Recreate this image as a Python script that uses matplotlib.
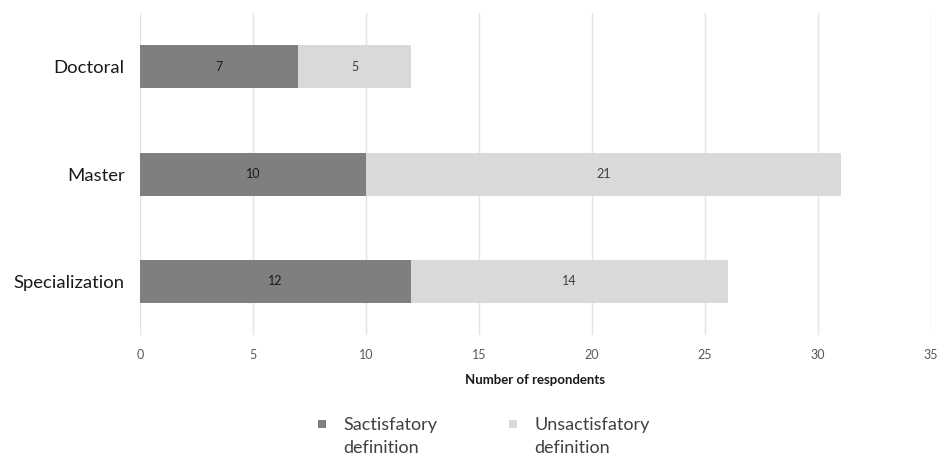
import matplotlib
matplotlib.use("Agg")
import matplotlib.pyplot as plt
from matplotlib.patches import Rectangle
import numpy as np

plt.rcParams['font.family'] = ['Lato', 'DejaVu Sans']

levels = ['Specialization', 'Master', 'Doctoral']
satisfactory = [12, 10, 7]
unsatisfactory = [14, 21, 5]
series_names = ['Sactisfatory\ndefinition', 'Unsactisfatory\ndefinition']

dark = '#7f7f7f'
light = '#d9d9d9'

W, H = 944, 461
fig = plt.figure(figsize=(W / 100, H / 100), dpi=100)
ax = fig.add_axes([0.1483, 0.273, 0.8379, 0.699])

y = np.arange(len(levels))
ax.barh(y, satisfactory, height=0.4, color=dark, zorder=2)
ax.barh(y, unsatisfactory, left=satisfactory, height=0.4, color=light, zorder=2)

# value labels in the middle of each segment
for i in range(len(levels)):
    ax.text(satisfactory[i] / 2, y[i], str(satisfactory[i]), ha='center', va='center',
            fontsize=9, color='#1a1a1a')
    ax.text(satisfactory[i] + unsatisfactory[i] / 2, y[i], str(unsatisfactory[i]),
            ha='center', va='center', fontsize=9, color='#404040')

ax.set_xlim(0, 35)
ax.set_ylim(-0.5, 2.5)
ax.set_xticks(np.arange(0, 36, 5))
ax.set_yticks(y)
ax.set_yticklabels(levels, fontsize=13.3, color='#1a1a1a')
ax.tick_params(axis='x', labelsize=9, labelcolor='#595959', length=0, pad=10)
ax.tick_params(axis='y', length=0, pad=11)
ax.grid(axis='x', color='#e3e3e3', linewidth=1, zorder=0)
for s in ax.spines.values():
    s.set_visible(False)

ax.set_xlabel('Number of respondents', fontsize=9.5, fontweight='bold', color='#1a1a1a', labelpad=9)

# legend below the axis: small square aligned with the first line of each label
legend_x = [318, 509]
for x0, name, col in zip(legend_x, series_names, [dark, light]):
    fig.add_artist(Rectangle((x0 / W, 1 - 428 / H), 8 / W, 8 / H,
                             transform=fig.transFigure, color=col, lw=0))
    fig.text((x0 + 25) / W, 1 - 417 / H, name, ha='left', va='top', fontsize=13,
             color='#404040', linespacing=1.55)

fig.savefig('out.png', dpi=100)
